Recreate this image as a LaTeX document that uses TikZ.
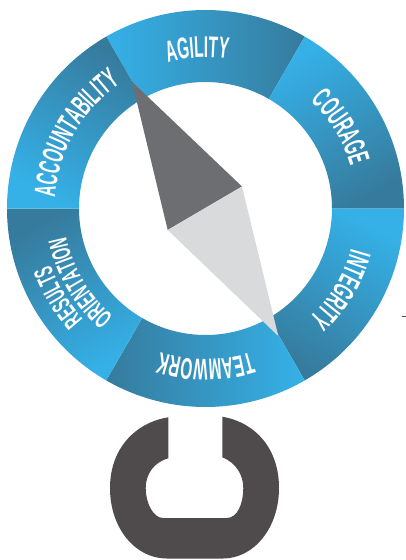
\documentclass[tikz,border=0pt]{standalone}
\usepackage{fontspec}
\usepackage{tikz}
\usetikzlibrary{decorations.text}
\newfontfamily\ringfam{Liberation Sans}[FakeStretch=0.51]
\newfontfamily\smallringfam{Liberation Sans}[FakeStretch=0.52]
\newcommand{\ringfont}{\ringfam\bfseries\fontsize{30}{30}\selectfont\color{white}}
\newcommand{\smallringfont}{\smallringfam\bfseries\fontsize{26.5}{26.5}\selectfont\color{white}}
\definecolor{ringlight}{HTML}{35B1E8}
\definecolor{ringdark}{HTML}{367B9D}
\definecolor{needledark}{HTML}{6D6E71}
\definecolor{needlelight}{HTML}{D9DADC}
\definecolor{logodark}{HTML}{4F4B4C}
\tikzset{ringseg/.style={left color=ringlight,right color=ringdark}}
\begin{document}
\begin{tikzpicture}[x=1pt,y=1pt]
\useasboundingbox (-205.5,208.5) rectangle (200.5,-351.5);

%ring
\shade[ringseg,shading angle=90] (120:198.5) arc[start angle=120,end angle=60,radius=198.5] -- (60:126.5) arc[start angle=60,end angle=120,radius=126.5] -- cycle;
\shade[ringseg,shading angle=30] (60:198.5) arc[start angle=60,end angle=0,radius=198.5] -- (0:126.5) arc[start angle=0,end angle=60,radius=126.5] -- cycle;
\shade[ringseg,shading angle=-30] (0:198.5) arc[start angle=0,end angle=-60,radius=198.5] -- (-60:126.5) arc[start angle=-60,end angle=0,radius=126.5] -- cycle;
\shade[ringseg,shading angle=-90] (-60:198.5) arc[start angle=-60,end angle=-120,radius=198.5] -- (-120:126.5) arc[start angle=-120,end angle=-60,radius=126.5] -- cycle;
\shade[ringseg,shading angle=-150] (240:198.5) arc[start angle=240,end angle=180,radius=198.5] -- (180:126.5) arc[start angle=180,end angle=240,radius=126.5] -- cycle;
\shade[ringseg,shading angle=-210] (180:198.5) arc[start angle=180,end angle=120,radius=198.5] -- (120:126.5) arc[start angle=120,end angle=180,radius=126.5] -- cycle;

%labels
\path[decorate,decoration={text along path,text align=center,text={|\ringfont|AGILITY}}] (123:151) arc[start angle=123,end angle=63,radius=151];
\path[decorate,decoration={text along path,text align=center,text={|\ringfont|COURAGE}}] (61:151) arc[start angle=61,end angle=1,radius=151];
\path[decorate,decoration={text along path,text align=center,text={|\ringfont|INTEGRITY}}] (-1:151) arc[start angle=-1,end angle=-61,radius=151];
\path[decorate,decoration={text along path,text align=center,text={|\ringfont|TEAMWORK}}] (-60:151) arc[start angle=-60,end angle=-120,radius=151];
\path[decorate,decoration={text along path,text align=center,text={|\smallringfont|RESULTS}}] (241:165) arc[start angle=241,end angle=181,radius=165];
\path[decorate,decoration={text along path,text align=center,text={|\smallringfont|ORIENTATION}}] (240.5:142) arc[start angle=240.5,end angle=180.5,radius=142];
\path[decorate,decoration={text along path,text align=center,text={|\ringfont|ACCOUNTABILITY}}] (180:151) arc[start angle=180,end angle=120,radius=151];

%needle
\fill[needledark] (-73.5,126.8) -- (36.5,22) -- (-37.8,-21.5) -- cycle;
\fill[needlelight] (36.5,22) -- (-37.8,-21.5) -- (72.8,-127.5) -- cycle;

%dash
\draw[black!70,line width=0.5pt] (196,-107.5) -- (200.5,-107.5);

%logo
\fill[logodark] (-37.2,-208.8) .. controls (-70,-214) and (-95.5,-240) .. (-95.5,-279.5)
  .. controls (-95.5,-320) and (-70,-350) .. (-38.8,-350) -- (17.5,-350)
  .. controls (48,-350) and (73.5,-320) .. (73.5,-279.5)
  .. controls (73.5,-240) and (50,-214) .. (16.8,-208.2) -- (16.8,-248.8)
  .. controls (30,-254) and (37.8,-266) .. (37.8,-279.5)
  .. controls (37.8,-295) and (32,-309.5) .. (21.2,-309.5) -- (-42.5,-309.5)
  .. controls (-52,-309.5) and (-59.8,-295) .. (-59.8,-279.5)
  .. controls (-59.8,-266) and (-52,-254) .. (-37.2,-249.8) -- cycle;

\end{tikzpicture}
\end{document}
